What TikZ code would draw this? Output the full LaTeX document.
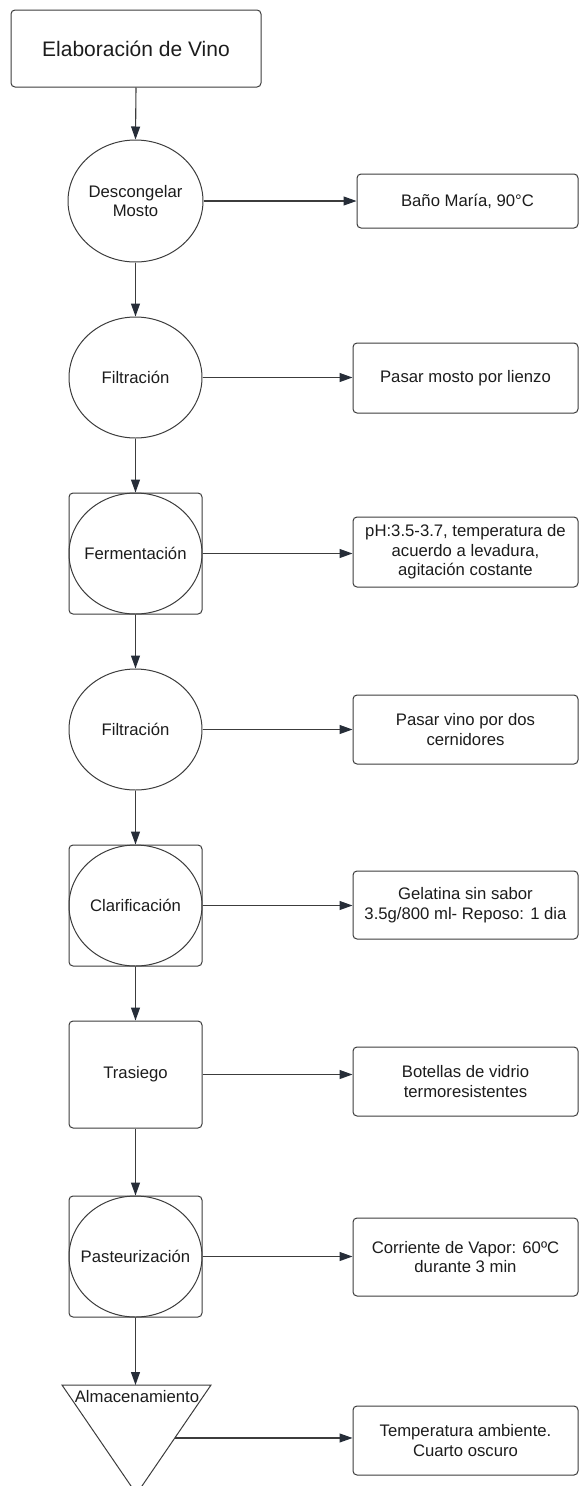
\documentclass[tikz,border=0pt]{standalone}
\usepackage{fontspec}
\setmainfont{Liberation Sans}
\usetikzlibrary{arrows.meta,shapes.geometric,calc}
\definecolor{edge}{HTML}{3C3C3C}
\definecolor{tip}{HTML}{262D38}
\definecolor{ink}{HTML}{1C1C1C}

\begin{document}
\begin{tikzpicture}[x=1pt,y=-1pt,
  every node/.style={text=ink, font=\fontsize{16.7}{19.5}\selectfont, inner sep=0pt},
  titlebox/.style={rectangle, draw=edge, line width=1pt, rounded corners=4pt,
    minimum width=250pt, minimum height=77pt, font=\fontsize{21}{25}\selectfont},
  proc/.style={ellipse, draw=edge, line width=1pt, minimum width=133pt, minimum height=121pt, align=center},
  procframe/.style={rectangle, draw=edge, line width=1pt, rounded corners=4pt,
    minimum width=133pt, minimum height=121pt},
  notebox/.style={rectangle, draw=edge, line width=1pt, rounded corners=4pt,
    minimum width=225pt, align=center},
  flowarrow/.style={draw=edge, line width=1.1pt, -{Triangle[length=13pt,width=9pt,color=tip]}}
]
\useasboundingbox (0,0) rectangle (579,1486);

% main process column
\node[titlebox] (title) at (136,48.5) {Elaboración de Vino};
\node[proc, minimum width=135pt, minimum height=122pt] (thaw) at (135.5,201) {Descongelar\\Mosto};
\node[proc] (filt1) at (135.5,377.5) {Filtración};
\node[procframe] (ferm) at (135.5,553.5) {Fermentación};
\node[proc] (fermring) at (ferm.center) {};
\node[proc] (filt2) at (135.5,729.5) {Filtración};
\node[procframe] (clar) at (135.5,905.5) {Clarificación};
\node[proc] (clarring) at (clar.center) {};
\node[procframe, minimum height=107pt] (tras) at (135.5,1074.5) {Trasiego};
\node[procframe] (past) at (135.5,1256.5) {Pasteurización};
\node[proc] (pastring) at (past.center) {};

% storage triangle, apex pointing down
\coordinate (triL) at (62,1385);
\coordinate (triR) at (211,1385);
\coordinate (triA) at (136.5,1494);
\coordinate (triTop) at (135.5,1385);
\coordinate (triSide) at ($(triR)!0.486!(triA)$);
\draw[draw=edge, line width=1pt, line join=miter] (triL) -- (triR) -- (triA) -- cycle;
\node (store) at (137,1397) {Almacenamiento};

% condition notes
\node[notebox, minimum width=221pt, minimum height=54pt] (n1) at (467.5,201) {Baño María, 90°C};
\node[notebox, minimum height=70pt] (n2) at (465.5,378) {Pasar mosto por lienzo};
\node[notebox, minimum height=70pt] (n3) at (465.5,552) {pH:3.5-3.7, temperatura de\\acuerdo a levadura,\\agitación costante};
\node[notebox, minimum height=69pt] (n4) at (465.5,729.5) {Pasar vino por dos\\cernidores};
\node[notebox, minimum height=68pt] (n5) at (465.5,905) {Gelatina sin sabor\\3.5g/800 ml- Reposo: 1 dia};
\node[notebox, minimum height=69pt] (n6) at (465.5,1081.5) {Botellas de vidrio\\termoresistentes};
\node[notebox, minimum height=78pt] (n7) at (465.5,1257) {Corriente de Vapor: 60ºC\\durante 3 min};
\node[notebox, minimum height=69pt] (n8) at (465.5,1440.5) {Temperatura ambiente.\\Cuarto oscuro};

% downward flow
\draw[flowarrow] (title.south) -- (thaw.north);
\draw[flowarrow] (thaw.south) -- (filt1.north);
\draw[flowarrow] (filt1.south) -- (ferm.north);
\draw[flowarrow] (ferm.south) -- (filt2.north);
\draw[flowarrow] (filt2.south) -- (clar.north);
\draw[flowarrow] (clar.south) -- (tras.north);
\draw[flowarrow] (tras.south) -- (past.north);
\draw[flowarrow] (past.south) -- (triTop);

% side connectors to the notes
\draw[flowarrow] (thaw.east) -- (thaw.east -| n1.west);
\draw[flowarrow] (filt1.east) -- (filt1.east -| n2.west);
\draw[flowarrow] (ferm.east) -- (ferm.east -| n3.west);
\draw[flowarrow] (filt2.east) -- (filt2.east -| n4.west);
\draw[flowarrow] (clar.east) -- (clar.east -| n5.west);
\draw[flowarrow] (tras.east) -- (tras.east -| n6.west);
\draw[flowarrow] (past.east) -- (past.east -| n7.west);
\draw[flowarrow] (triSide) -- (triSide -| n8.west);
\end{tikzpicture}
\end{document}
